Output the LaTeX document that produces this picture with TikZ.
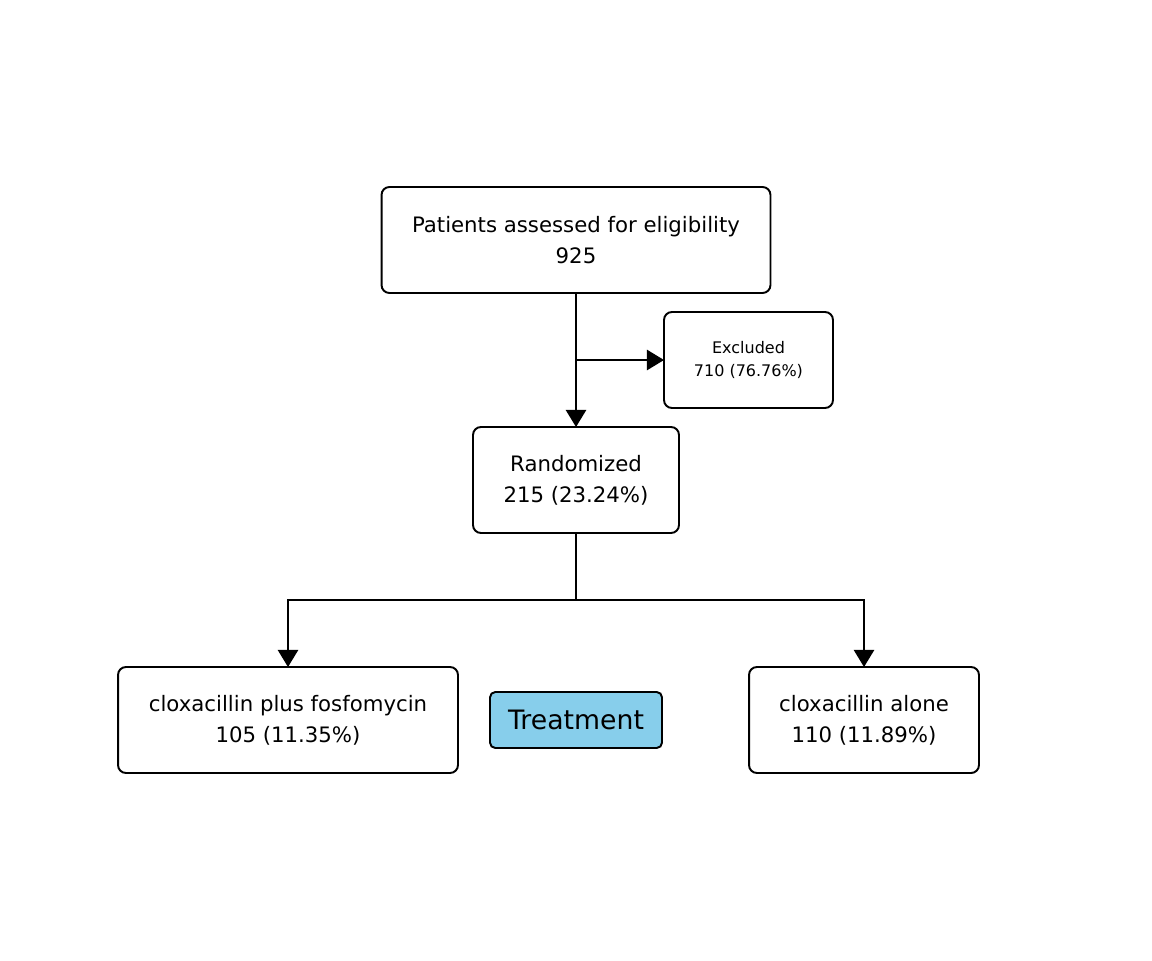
\documentclass[tikz,border=0pt]{standalone}
\usepackage{fontspec}
\setmainfont{DejaVu Sans}
\usetikzlibrary{arrows.meta}

\tikzset{
  box/.style={draw, line width=1.1pt, rounded corners=4.5pt, fill=white, align=center,
    inner sep=0pt, outer sep=0pt, font=\fontsize{12.1}{17.6}\selectfont},
  smallbox/.style={box, font=\fontsize{9.1}{13.6}\selectfont},
  labelbox/.style={box, fill=skyblue, rounded corners=3pt, font=\fontsize{15.2}{17}\selectfont},
  arr/.style={line width=1.1pt, -{Triangle[length=9.8pt,width=11.6pt]}},
  link/.style={line width=1.1pt}
}
\definecolor{skyblue}{HTML}{87CEEB}

\begin{document}
\begin{tikzpicture}[x=0.02cm, y=-0.02cm]

%page frame
\useasboundingbox (0,0) rectangle (1152,960);

%boxes
\node[box, minimum width=7.78cm, minimum height=2.12cm] (assessed) at (576,240) {Patients assessed for eligibility\\925};
\node[smallbox, minimum width=3.38cm, minimum height=1.92cm] (excluded) at (748.5,360) {Excluded\\710 (76.76\%)};
\node[box, minimum width=4.12cm, minimum height=2.12cm] (randomized) at (576,480) {Randomized\\215 (23.24\%)};
\node[box, minimum width=6.8cm, minimum height=2.12cm] (combo) at (288,720) {cloxacillin plus fosfomycin\\105 (11.35\%)};
\node[labelbox, minimum width=3.44cm, minimum height=1.12cm] (treatment) at (576,720) {Treatment};
\node[box, minimum width=4.6cm, minimum height=2.12cm] (alone) at (864,720) {cloxacillin alone\\110 (11.89\%)};

%connectors
\coordinate (split) at (576,600);
\draw[arr] (assessed.south) -- (randomized.north);
\draw[arr] (assessed.south |- excluded.west) -- (excluded.west);
\draw[link] (randomized.south) -- (split);
\draw[arr] (split) -| (combo.north);
\draw[arr] (split) -| (alone.north);

\end{tikzpicture}
\end{document}
